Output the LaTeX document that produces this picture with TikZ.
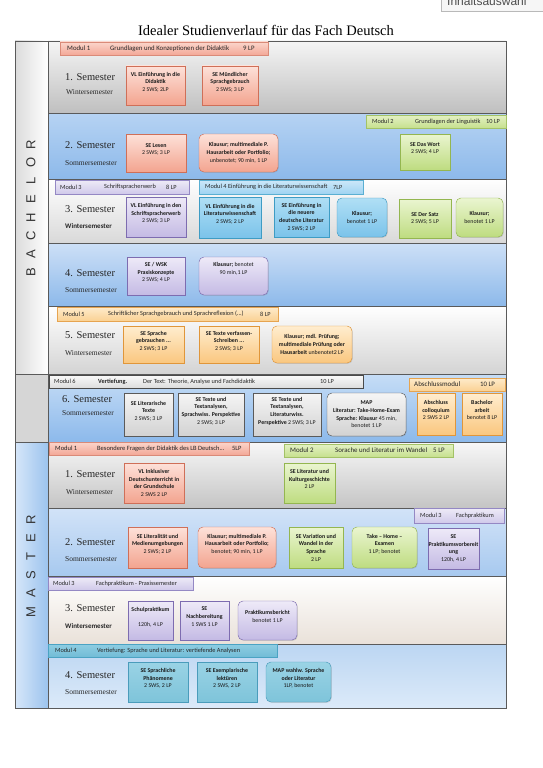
\documentclass[tikz,border=0pt]{standalone}
\usepackage{fontspec}
\setmainfont{Liberation Serif}
\newfontfamily\cfont{Carlito}
\newfontfamily\lsfont{Liberation Sans}
\usetikzlibrary{shadows}

\definecolor{frm}{HTML}{5A5A5A}
% bars
\definecolor{barRt}{HTML}{FBD5CB}\definecolor{barRb}{HTML}{F3A897}\definecolor{barRd}{HTML}{D98A78}
\definecolor{barGt}{HTML}{E4F1C4}\definecolor{barGb}{HTML}{C6E08E}\definecolor{barGd}{HTML}{A3C266}
\definecolor{barPt}{HTML}{EEEBF7}\definecolor{barPb}{HTML}{D0C9EA}\definecolor{barPd}{HTML}{9488C4}
\definecolor{barBt}{HTML}{CDE8F9}\definecolor{barBb}{HTML}{9FD3F2}\definecolor{barBd}{HTML}{5AAFD2}
\definecolor{barOt}{HTML}{FEEBCB}\definecolor{barOb}{HTML}{FAD193}\definecolor{barOd}{HTML}{E6A450}
\definecolor{barWt}{HTML}{FAFAFA}\definecolor{barWb}{HTML}{DCDCDC}\definecolor{barWd}{HTML}{4A4A4A}
\definecolor{barTt}{HTML}{8ECDE2}\definecolor{barTb}{HTML}{72BCD6}\definecolor{barTd}{HTML}{4BA3C3}
% boxes
\definecolor{bxRt}{HTML}{FDE1D9}\definecolor{bxRb}{HTML}{F3A48F}\definecolor{bxRd}{HTML}{CF6F58}
\definecolor{bxGt}{HTML}{EAF5D0}\definecolor{bxGb}{HTML}{BEDC80}\definecolor{bxGd}{HTML}{94B650}
\definecolor{bxPt}{HTML}{EEEAF8}\definecolor{bxPb}{HTML}{C4BAE4}\definecolor{bxPd}{HTML}{7D6CB0}
\definecolor{bxBt}{HTML}{B0DFF5}\definecolor{bxBb}{HTML}{7BC3EA}\definecolor{bxBd}{HTML}{3E9CC4}
\definecolor{bxOt}{HTML}{FFEDCF}\definecolor{bxOb}{HTML}{FAC77F}\definecolor{bxOd}{HTML}{E0963A}
\definecolor{bxWt}{HTML}{F5F5F5}\definecolor{bxWb}{HTML}{D2D2D2}\definecolor{bxWd}{HTML}{5A5A5A}
\definecolor{bxTt}{HTML}{9AD3E5}\definecolor{bxTb}{HTML}{7EC4DA}\definecolor{bxTd}{HTML}{4A9CBB}

\newcommand\rect[7]{\node[#6, minimum width={(#4-#2)*1pt}, minimum height={(#5-#3)*1pt}] (#1) at ({(#2+#4)/2},{(#3+#5)/2}) {#7};}
\newcommand\bt[4]{\node[bartxt] (#1) at (#3.center -| #2,0) {#4};}
\newcommand\nb[1]{{\mdseries #1}}
\newcommand\e{\\\mbox{}}
\newcommand\bigbar{\fontsize{6.8}{7}\selectfont}
\newcommand\midbar{\fontsize{6.5}{7}\selectfont}

\tikzset{
  rowbox/.style={draw=frm, line width=0.5pt, inner sep=0pt},
  barbase/.style={line width=0.4pt, inner sep=0pt,
     drop shadow={opacity=0.25, shadow xshift=0.6pt, shadow yshift=-0.6pt}},
  barR/.style={barbase, draw=barRd, top color=barRt, bottom color=barRb},
  barG/.style={barbase, draw=barGd, top color=barGt, bottom color=barGb},
  barP/.style={barbase, draw=barPd, top color=barPt, bottom color=barPb},
  barB/.style={barbase, draw=barBd, top color=barBt, bottom color=barBb},
  barO/.style={barbase, draw=barOd, top color=barOt, bottom color=barOb},
  barW/.style={barbase, draw=barWd, top color=barWt, bottom color=barWb},
  barT/.style={barbase, draw=barTd, top color=barTt, bottom color=barTb},
  bartxt/.style={anchor=west, inner sep=0pt, text=black!85, font=\cfont\fontsize{6.3}{7}\selectfont},
  cbase/.style={line width=0.45pt, inner sep=0.5pt, align=center, text=black!90,
     font=\cfont\bfseries\fontsize{5.9}{7.7}\selectfont,
     drop shadow={opacity=0.28, shadow xshift=0.8pt, shadow yshift=-0.8pt}},
  rnd/.style={rounded corners=5pt},
  bxR/.style={cbase, draw=bxRd, top color=bxRt, bottom color=bxRb},
  bxG/.style={cbase, draw=bxGd, top color=bxGt, bottom color=bxGb},
  bxP/.style={cbase, draw=bxPd, top color=bxPt, bottom color=bxPb},
  bxB/.style={cbase, draw=bxBd, top color=bxBt, bottom color=bxBb},
  bxO/.style={cbase, draw=bxOd, top color=bxOt, bottom color=bxOb},
  bxW/.style={cbase, draw=bxWd, top color=bxWt, bottom color=bxWb},
  bxT/.style={cbase, draw=bxTd, top color=bxTt, bottom color=bxTb},
  semA/.style={anchor=west, inner sep=0pt, text=black!85, font=\fontsize{10.5}{12}\selectfont},
  semB/.style={anchor=west, inner sep=0pt, text=black!85, font=\fontsize{7.5}{9}\selectfont},
  semC/.style={anchor=west, inner sep=0pt, text=black!85, font=\cfont\bfseries\fontsize{7}{8}\selectfont},
  vlet/.style={rotate=90, inner sep=0pt, text=black!80, font=\lsfont\fontsize{13}{14}\selectfont},
}

\begin{document}
\begin{tikzpicture}[x=1pt, y=-1pt]
\useasboundingbox (0,0) rectangle (543,768);
\fill[white] (0,0) rectangle (543,768);

% corner artefact
\rect{ia}{441}{-8}{548}{11}{draw=gray!55, fill=gray!7, line width=0.6pt}{}
\node[anchor=base west, inner sep=0pt, text=black!70, font=\lsfont\fontsize{12}{13}\selectfont] (iat) at (447,5.5) {Inhaltsauswahl};

% title
\node[inner sep=0pt, font=\fontsize{14.5}{16}\selectfont] (title) at (266,30) {Idealer Studienverlauf für das Fach Deutsch};

% ---------- BACHELOR ----------
\rect{bstrip}{15}{41}{48}{374}{rowbox, left color=gray!28, right color=white}{}
\rect{br1}{48}{41}{506}{113}{rowbox, top color=black!4, bottom color=black!25}{}
\rect{br2}{48}{113}{506}{179}{rowbox, top color={rgb,255:red,182;green,211;blue,243}, bottom color={rgb,255:red,141;green,185;blue,234}}{}
\rect{br3}{48}{179}{506}{243}{rowbox, top color=white, bottom color=black!15}{}
\rect{br4}{48}{243}{506}{306}{rowbox, top color={rgb,255:red,205;green,224;blue,247}, bottom color={rgb,255:red,141;green,185;blue,234}}{}
\rect{br5}{48}{306}{506}{374}{rowbox, top color=white, bottom color=black!17}{}

\foreach \l [count=\i] in {B,A,C,H,E,L,O,R}
  \node[vlet] (bl\i) at (31,{272-(\i-1)*18.2}) {\l};

% semester 6
\rect{sstrip}{15}{374}{48}{442}{rowbox, fill=black!16}{}
\rect{br6}{48}{374}{506}{442}{rowbox, top color={rgb,255:red,198;green,221;blue,246}, bottom color={rgb,255:red,140;green,185;blue,235}}{}

% ---------- MASTER ----------
\rect{mstrip}{15}{442}{48}{708}{rowbox, left color={rgb,255:red,214;green,230;blue,249}, right color={rgb,255:red,156;green,196;blue,238}}{}
\rect{mr1}{48}{442}{506}{508}{rowbox, top color=black!3, bottom color=black!23}{}
\rect{mr2}{48}{508}{506}{576}{rowbox, top color={rgb,255:red,210;green,227;blue,248}, bottom color={rgb,255:red,167;green,201;blue,239}}{}
\rect{mr3}{48}{576}{506}{644}{rowbox, top color=white, bottom color={rgb,255:red,233;green,225;blue,217}}{}
\rect{mr4}{48}{644}{506}{708}{rowbox, top color={rgb,255:red,188;green,214;blue,242}, bottom color={rgb,255:red,220;green,234;blue,249}}{}

\foreach \l [count=\i] in {M,A,S,T,E,R}
  \node[vlet] (ml\i) at (31,{612-(\i-1)*18.4}) {\l};

% ---------- semester labels ----------
\node[semA] (s1a) at (65,77) {1. Semester};
\node[semB] (s1b) at (66,92) {Wintersemester};
\node[semA] (s2a) at (65,145) {2. Semester};
\node[semB] (s2b) at (65,163) {Sommersemester};
\node[semA] (s3a) at (65,209) {3. Semester};
\node[semC] (s3b) at (65,226) {Wintersemester};
\node[semA] (s4a) at (65,273) {4. Semester};
\node[semB] (s4b) at (65,290) {Sommersemester};
\node[semA] (s5a) at (65,335) {5. Semester};
\node[semB] (s5b) at (65,353) {Wintersemester};
\node[semA] (s6a) at (62,399) {6. Semester};
\node[semB] (s6b) at (62,413) {Sommersemester};
\node[semA] (t1a) at (65,474) {1. Semester};
\node[semB] (t1b) at (66,492) {Wintersemester};
\node[semA] (t2a) at (65,542) {2. Semester};
\node[semB] (t2b) at (65,559) {Sommersemester};
\node[semA] (t3a) at (65,608) {3. Semester};
\node[semC] (t3b) at (65,626) {Wintersemester};
\node[semA] (t4a) at (65,675) {4. Semester};
\node[semB] (t4b) at (65,692) {Sommersemester};

% ---------- module bars ----------
\rect{bm1}{60}{42}{268}{55}{barR}{}
\bt{bm1a}{67}{bm1}{\bigbar Modul 1}\bt{bm1b}{110}{bm1}{\bigbar Grundlagen und Konzeptionen der Didaktik}\bt{bm1c}{243}{bm1}{\bigbar 9 LP}
\rect{bm2}{366}{115}{506}{128}{barG}{}
\bt{bm2a}{372}{bm2}{Modul 2}\bt{bm2b}{415}{bm2}{Grundlagen der Linguistik}\bt{bm2c}{486}{bm2}{10 LP}
\rect{bm3}{55}{180}{189}{194}{barP}{}
\bt{bm3a}{60}{bm3}{Modul 3}\bt{bm3b}{104}{bm3}{Schriftspracherwerb}\bt{bm3c}{166}{bm3}{8 LP}
\rect{bm4}{199}{180}{363}{194}{barB}{}
\bt{bm4a}{205}{bm4}{Modul 4 Einführung in die Literaturwissenschaft}\bt{bm4c}{333}{bm4}{7LP}
\rect{bm5}{57}{307}{278}{321}{barO}{}
\bt{bm5a}{63}{bm5}{Modul 5}\bt{bm5b}{108}{bm5}{Schriftlicher Sprachgebrauch und Sprachreflexion (...)}\bt{bm5c}{260}{bm5}{8 LP}
\rect{bm6}{49}{375}{363}{388}{barW}{}
\bt{bm6a}{54}{bm6}{Modul 6}\bt{bm6b}{98}{bm6}{\bfseries Vertiefung.}\bt{bm6c}{143}{bm6}{Der Text: Theorie, Analyse und Fachdidaktik}\bt{bm6d}{320}{bm6}{10 LP}
\rect{bab}{409}{378}{505}{391}{barO}{}
\bt{baba}{414}{bab}{\fontsize{7}{8}\selectfont Abschlussmodul}\bt{babb}{480}{bab}{\fontsize{6.8}{8}\selectfont 10 LP}

\rect{mm1}{49}{442}{249}{455}{barR}{}
\bt{mm1a}{55}{mm1}{\midbar Modul 1}\bt{mm1b}{97}{mm1}{\midbar Besondere Fragen der Didaktik des LB Deutsch...}\bt{mm1c}{232}{mm1}{\midbar 5LP}
\rect{mm2}{284}{444}{453}{457}{barG}{}
\bt{mm2a}{290}{mm2}{\fontsize{6.9}{8}\selectfont Modul 2}\bt{mm2b}{335}{mm2}{\fontsize{6.9}{8}\selectfont Sorache und Literatur im Wandel}\bt{mm2c}{433}{mm2}{\fontsize{6.9}{8}\selectfont 5 LP}
\rect{mm3}{414}{508}{504}{523}{barP}{}
\bt{mm3a}{420}{mm3}{Modul 3}\bt{mm3b}{456}{mm3}{Fachpraktikum}
\rect{mm3x}{48}{577}{193}{590}{barP}{}
\bt{mm3xa}{53}{mm3x}{Modul 3}\bt{mm3xb}{96}{mm3x}{Fachpraktikum - Praxissemester}
\rect{mm4}{48}{644}{277}{657}{barT}{}
\bt{mm4a}{55}{mm4}{Modul 4}\bt{mm4b}{97}{mm4}{Vertiefung: Sprache und Literatur: vertiefende Analysen}

% ---------- course boxes: Bachelor ----------
\rect{a1}{126}{66}{185}{105}{bxR}{VL Einführung in die\\Didaktik\\\nb{2 SWS; 2LP}\e}
\rect{a2}{202}{66}{258}{105}{bxR}{SE Mündlicher\\Sprachgebrauch\\\nb{2 SWS; 3 LP}\e}

\rect{b1}{126}{134}{186}{172}{bxR}{SE Lesen\\\nb{2 SWS; 3 LP}\e}
\rect{b2}{199}{134}{278}{172}{bxR,rnd}{Klausur; multimediale P.\\Hausarbeit oder Portfolio;\\\nb{unbenotet; 90 min, 1 LP}}
\rect{b3}{400}{134}{450}{170}{bxG}{SE Das Wort\\\nb{2 SWS; 4 LP}\e}

\rect{c1}{126}{197}{186}{237}{bxP}{VL Einführung in den\\Schriftspracherwerb\\\nb{2 SWS; 3 LP}\e}
\rect{c2}{199}{197}{261}{238}{bxB}{VL Einführung in die\\Literaturwissenschaft\\\nb{2 SWS; 2 LP}\e}
\rect{c3}{274}{197}{329}{237}{bxB}{SE Einführung in\\die neuere\\deutsche Literatur\\\nb{2 SWS; 2 LP}}
\rect{c4}{337}{198}{387}{237}{bxB,rnd}{Klausur;\\\nb{benotet 1 LP}}
\rect{c5}{399}{199}{451}{238}{bxG}{SE Der Satz\\\nb{2 SWS; 5 LP}}
\rect{c6}{456}{198}{503}{237}{bxG,rnd}{Klausur;\\\nb{benotet 1 LP}}

\rect{d1}{127}{257}{185}{295}{bxP}{SE / WSK\\Praxiskonzepte\\\nb{2 SWS; 4 LP}\e}
\rect{d2}{199}{257}{268}{295}{bxP,rnd}{Klausur; \nb{benotet}\\\nb{90 min,1 LP}\e\e}

\rect{e1}{123}{326}{184}{363}{bxO}{SE Sprache\\gebrauchen ...\\\nb{2 SWS; 3 LP}\e}
\rect{e2}{199}{326}{259}{363}{bxO}{SE Texte verfassen-\\Schreiben ...\\\nb{2 SWS; 3 LP}\e}
\rect{e3}{272}{326}{352}{363}{bxO,rnd}{Klausur; mdl. Prüfung;\\multimediale Prüfung oder\\Hausarbeit \nb{unbenotet2 LP}}

\rect{f1}{124}{393}{173}{436}{bxW}{SE Literarische\\Texte\\\nb{2 SWS; 3 LP}\e}
\rect{f2}{178}{393}{244}{436}{bxW}{SE Texte und\\Textanalysen,\\Sprachwiss. Perspektive\\\nb{2 SWS; 3 LP}\e}
\rect{f3}{253}{393}{321}{436}{bxW}{SE Texte und\\Textanalysen,\\Literaturwiss.\\Perspektive \nb{2 SWS; 3 LP}\e}
\rect{f4}{327}{393}{406}{436}{bxW,rnd}{MAP\\Literatur: Take-Home-Exam\\Sprache: Klausur \nb{45 min,}\\\nb{benotet 1 LP}}
\rect{f5}{417}{393}{455}{435}{bxO}{Abschluss\\colloquium\\\nb{2 SWS 2 LP}\e}
\rect{f6}{462}{393}{502}{435}{bxO}{Bachelor\\arbeit\\\nb{benotet 8 LP}\e}

% ---------- course boxes: Master ----------
\rect{g1}{124}{463}{184}{503}{bxR}{VL Inklusiver\\Deutschunterricht in\\der Grundschule\\\nb{2 SWS 2 LP}}
\rect{g2}{284}{463}{335}{503}{bxG}{SE Literatur und\\Kulturgeschichte\\\nb{2 LP}\e}

\rect{h1}{128}{527}{187}{568}{bxR}{SE Literalität und\\Medienumgebungen\\\nb{2 SWS; 2 LP}\e}
\rect{h2}{198}{527}{276}{568}{bxR,rnd}{Klausur; multimediale P.\\Hausarbeit oder Portfolio;\\\nb{benotet; 90 min, 1 LP}\e}
\rect{h3}{289}{527}{343}{568}{bxG}{SE Variation und\\Wandel in der\\Sprache\\\nb{2 LP}}
\rect{h4}{352}{527}{417}{568}{bxG,rnd}{Take – Home –\\Examen\\\nb{1 LP; benotet}\e}
\rect{h5}{428}{528}{479}{569}{bxP}{SE\\Praktikumsvorbereit\\ung\\\nb{120h, 4 LP}}

\rect{i1}{128}{601}{173}{640}{bxP}{Schulpraktikum\\\mbox{}\\\nb{120h, 4 LP}\e}
\rect{i2}{180}{601}{229}{640}{bxP}{SE\\Nachbereitung\\\nb{1 SWS 1 LP}\e}
\rect{i3}{238}{601}{297}{640}{bxP,rnd}{Praktikumsbericht\\\nb{benotet 1 LP}\e}

\rect{j1}{128}{662}{188}{702}{bxT}{SE Sprachliche\\Phänomene\\\nb{2 SWS, 2 LP}\e}
\rect{j2}{197}{662}{257}{702}{bxT}{SE Exemplarische\\lektüren\\\nb{2 SWS, 2 LP}\e}
\rect{j3}{266}{662}{331}{702}{bxT,rnd}{MAP wahlw. Sprache\\oder Literatur\\\nb{1LP, benotet}\e}
\end{tikzpicture}
\end{document}
